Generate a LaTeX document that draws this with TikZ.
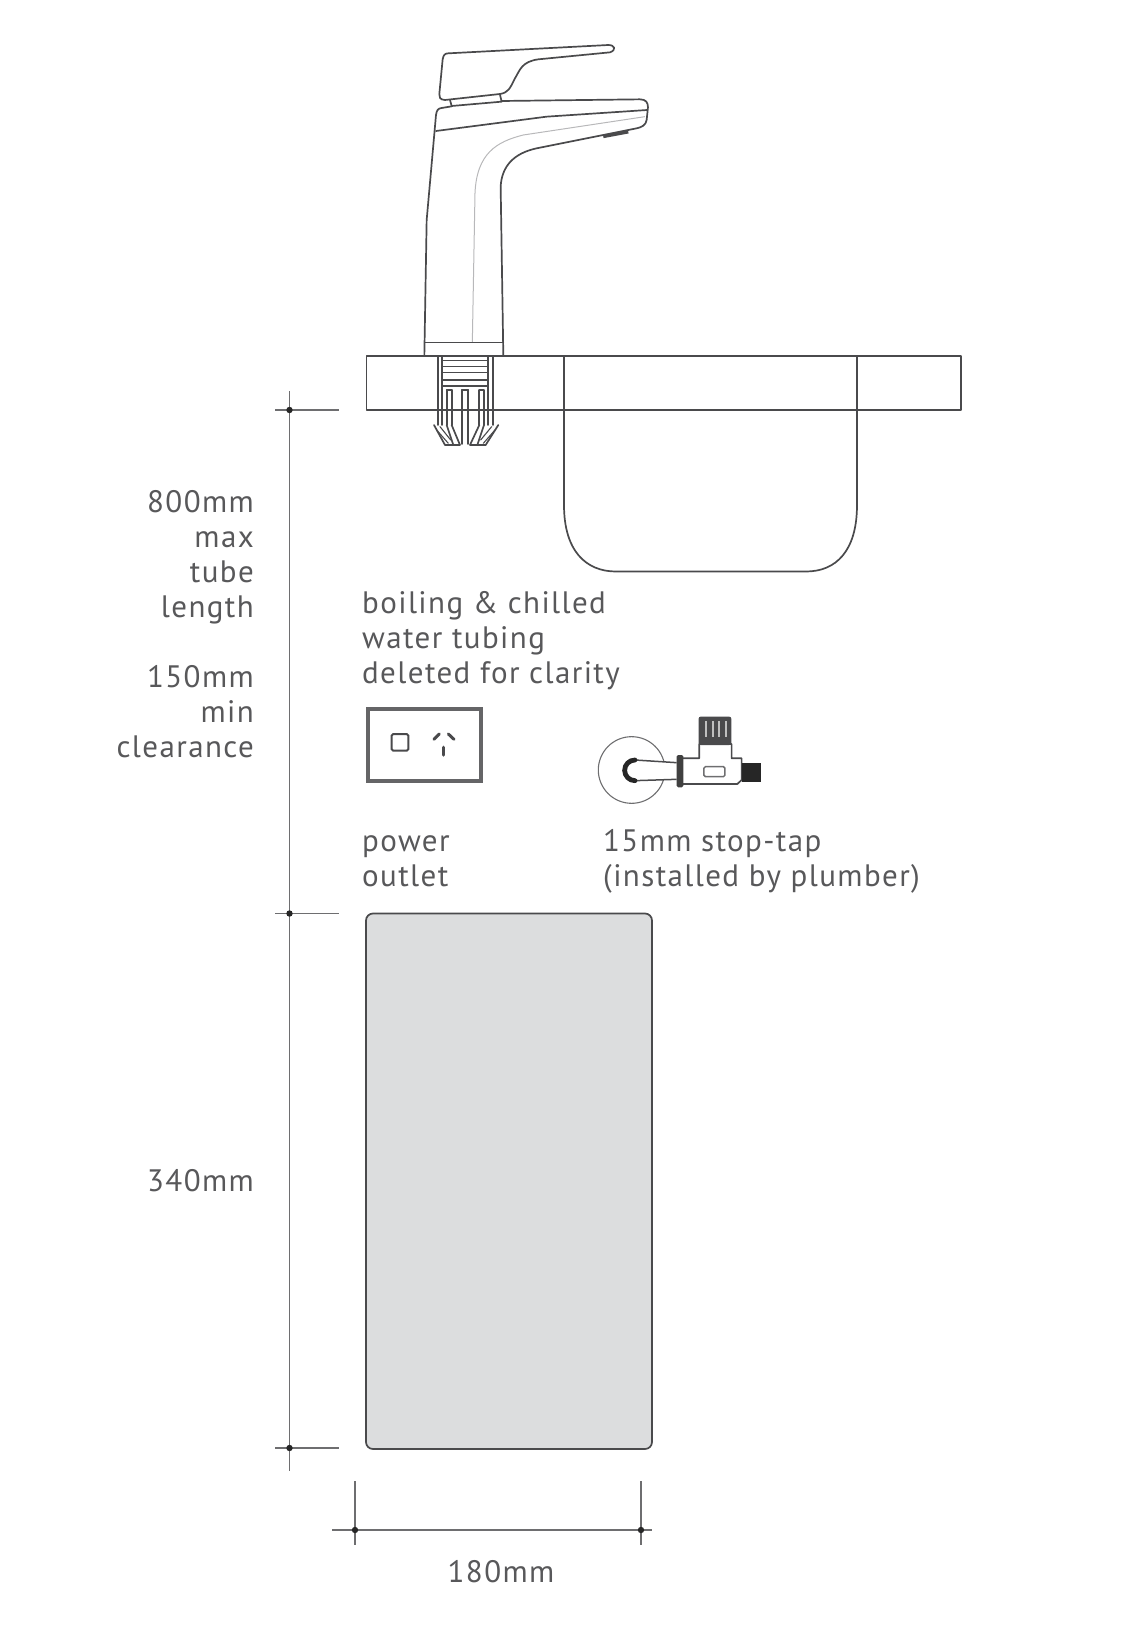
\documentclass[tikz,border=0pt]{standalone}
\usepackage{fontspec}
\setmainfont[LetterSpace=4.5]{PT Sans}
\definecolor{ink}{HTML}{4A4A4C}
\definecolor{txt}{HTML}{58585A}
\definecolor{soft}{HTML}{B8B8BA}
\definecolor{panel}{HTML}{DCDDDE}
\tikzset{
  outline/.style={draw=ink,line width=1.7pt,line join=round,line cap=round},
  thin line/.style={draw=soft,line width=1pt},
  dimline/.style={draw=ink!80,line width=1.5pt},
  dimdot/.style={fill=black!85},
  label/.style={text=txt,inner sep=0pt,font=\fontsize{31}{35}\selectfont},
  zoomA/.style={shift={(380,20)},x=0.3333pt,y=-0.3333pt},
  zoomB/.style={shift={(340,330)},x=0.3333pt,y=-0.3333pt},
  zoomC/.style={shift={(340,680)},x=0.3333pt,y=-0.3333pt}
}
\begin{document}
\begin{tikzpicture}[x=1pt,y=-1pt]
\useasboundingbox (0,0) rectangle (1122,1652);
% counter and sink
\draw[outline] (366.5,356) rectangle (961,410);
\draw[outline] (564,356) -- (564,505) .. controls (564,551) and (586,571.5) .. (616,571.5) -- (806,571.5) .. controls (836,571.5) and (857,551) .. (857,505) -- (857,356);
% tap
\begin{scope}[zoomA]
\draw[outline,fill=white] (205,100) -- (685,75) .. controls (705,75) and (710,90) .. (690,97) -- (475,118) .. controls (425,125) and (420,150) .. (405,175) .. controls (390,205) and (385,218) .. (360,222) -- (195,240) .. controls (180,240) and (176,230) .. (178,222) -- (188,118) .. controls (190,105) and (195,100) .. (205,100) -- cycle;
\draw[outline] (210,240) -- (215,258) -- (365,245) -- (360,224);
\draw[outline] (365,243) -- (780,238) .. controls (798,238) and (804,248) .. (804,262) -- (800,300) .. controls (798,315) and (785,322) .. (770,325) -- (470,385) .. controls (400,400) and (365,440) .. (362,500) -- (370,1008);
\draw[outline] (133,1008) -- (140,600) -- (168,285) .. controls (170,270) and (175,265) .. (185,264) -- (215,259);
\draw[outline] (168,333) -- (500,290) -- (802,270);
\draw[thin line] (277,968) -- (285,520) .. controls (290,400) and (350,365) .. (430,345) -- (795,290);
\draw[draw=ink,line width=3pt] (670,350) -- (745,336);
\draw[outline] (135,968) -- (370,968);
\end{scope}
% connector below the tap
\begin{scope}[zoomB]
\draw[outline] (295,78) -- (295,285) (305,78) -- (305,285) (445,78) -- (445,285) (458,78) -- (458,285);
\foreach \yy in {92,110,128,150,168} \draw[draw=ink,line width=1.3pt] (305,\yy) -- (445,\yy);
\draw[outline] (322,180) -- (322,285) (335,180) -- (335,285) (365,180) -- (365,342) (385,180) -- (385,342) (365,180) -- (385,180);
\draw[outline] (418,180) -- (418,285) (432,180) -- (432,285) (320,180) -- (335,180) (418,180) -- (432,180);
\draw[outline] (282,285) -- (315,345) -- (360,345) -- (335,285) (320,285) -- (340,345);
\draw[outline] (475,285) -- (437,345) -- (390,345) -- (418,285) (432,285) -- (412,345);
\draw[outline,line width=1.1pt] (290,300) -- (325,340) (300,290) -- (332,330) (465,300) -- (430,340) (455,290) -- (422,330);
\end{scope}
% power outlet
\begin{scope}[zoomC]
\draw[draw=ink!85,line width=3.8pt] (84,86) rectangle (424,302);
\draw[draw=ink,line width=2pt,rounded corners=1.5pt] (155,162) rectangle (205,212);
\draw[draw=ink,line width=3pt,line cap=round] (282,178) -- (298,162) (325,162) -- (342,178);
\draw[draw=ink,line width=3.5pt,line cap=round] (310,202) -- (310,225);
\end{scope}
% stop tap
\begin{scope}[zoomC]
\draw[draw=ink!80,line width=1.1pt] (875,270) circle (100);
\fill[white] (880,240) -- (1010,248) -- (1010,298) -- (880,303) -- cycle;
\draw[draw=ink,line width=1.5pt] (885,240) -- (1010,248) (885,302) -- (1010,298);
\draw[draw=black!85,line width=4.8pt,line cap=round] (885,240) arc[start angle=270,end angle=90,radius=31];
\draw[outline] (1028,235) -- (1078,235) -- (1078,192) -- (1175,192) -- (1175,235) -- (1205,235) -- (1205,300) -- (1192,312) -- (1028,312);
\fill[black!75,rounded corners=1.5pt] (1010,225) rectangle (1030,322);
\fill[black!85] (1205,250) rectangle (1262,305);
\draw[draw=ink!80,line width=1.5pt,rounded corners=1.5pt] (1092,260) rectangle (1155,290);
\fill[ink,rounded corners=2pt] (1076,110) rectangle (1174,195);
\foreach \xx in {1094,1115,1135,1154} \fill[black!25] (\xx,122) rectangle +(6,48);
\end{scope}
% under-counter module
\draw[draw=ink,line width=1.7pt,fill=panel,rounded corners=7pt] (366,913.5) rectangle (652,1449);
% height dimension
\draw[dimline] (289.5,391) -- (289.5,1471);
\draw[dimline] (275,410) -- (339,410) (275,913.5) -- (339,913.5) (275,1448) -- (339,1448);
\foreach \yy in {410,913.5,1448} \fill[dimdot] (289.5,\yy) circle (3.2);
% width dimension
\draw[dimline] (332,1530) -- (652,1530) (355,1481) -- (355,1545) (641,1481) -- (641,1545);
\foreach \xx in {355,641} \fill[dimdot] (\xx,1530) circle (3.2);
% labels
\node[label,anchor=base east,align=right] (lblmax) at (254,617) {800mm\\max\\tube\\length};
\node[label,anchor=base east,align=right] (lblmin) at (254,757.5) {150mm\\min\\clearance};
\node[label,anchor=base east] (lblh) at (254,1191) {340mm};
\node[label,anchor=base] (lblw) at (501,1582) {180mm};
\node[label,anchor=base west,align=left] (lbltube) at (362,683.5) {boiling \& chilled\\water tubing\\deleted for clarity};
\node[label,anchor=base west,align=left] (lblpower) at (362,886) {power\\outlet};
\node[label,anchor=base west,align=left] (lblstop) at (603,886) {15mm stop-tap\\(installed by plumber)};
\end{tikzpicture}
\end{document}
